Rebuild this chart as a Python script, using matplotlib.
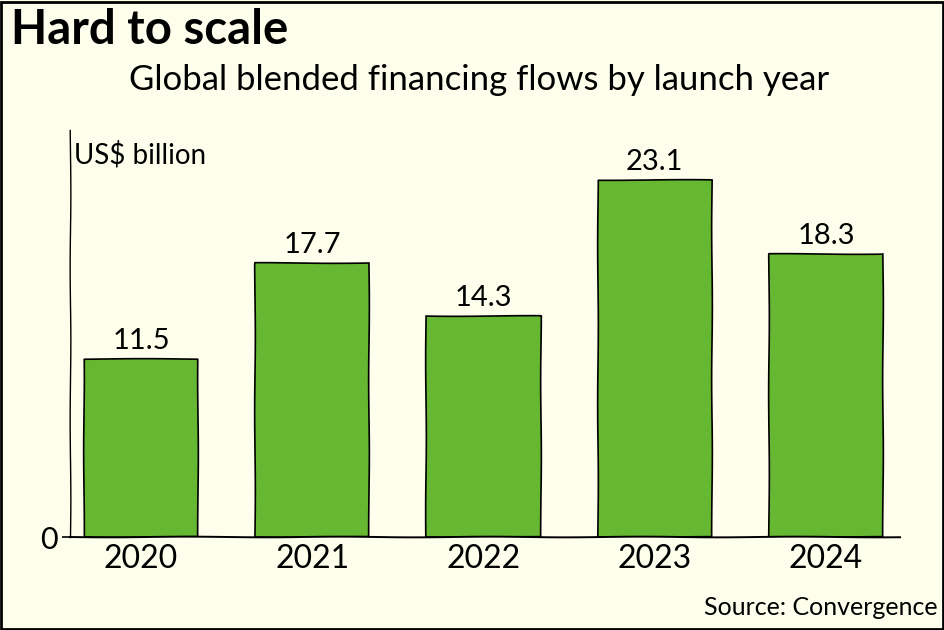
import matplotlib
matplotlib.use("Agg")
import matplotlib.pyplot as plt
from matplotlib.patches import Rectangle

years = ["2020", "2021", "2022", "2023", "2024"]
values = [11.5, 17.7, 14.3, 23.1, 18.3]
value_labels = ["11.5", "17.7", "14.3", "23.1", "18.3"]
title = "Hard to scale"
subtitle = "Global blended financing flows by launch year"
unit_label = "US$ billion"
source = "Source: Convergence"

BG = "#FEFEEC"
GREEN = "#66B832"

plt.rcParams["font.family"] = ["Lato", "DejaVu Sans"]
plt.rcParams["path.sketch"] = (0.35, 160, 1.5)

fig = plt.figure(figsize=(9.45, 6.3), dpi=100, facecolor=BG)
ax = fig.add_axes([0.074, 0.1476, 0.878, 0.646], facecolor=BG)

x = list(range(len(years)))
bars = ax.bar(x, values, width=0.667, color=GREEN, edgecolor="black", linewidth=1.2, zorder=2)
for xi, v, lab in zip(x, values, value_labels):
    ax.text(xi, v + 0.3, lab, ha="center", va="bottom", fontsize=21, color="black")

ax.set_xlim(-0.415, 4.43)
ax.set_ylim(0, 26.3)
ax.set_xticks(x)
ax.set_xticklabels(years, fontsize=23)
ax.tick_params(axis="x", length=0, pad=5)
ax.set_yticks([0])
ax.set_yticklabels(["0"], fontsize=22)
ax.tick_params(axis="y", length=6, width=1.2, pad=3)
for s in ["top", "right"]:
    ax.spines[s].set_visible(False)
ax.spines["left"].set_linewidth(1.0)
ax.spines["bottom"].set_linewidth(1.4)

fig.text(0.012, 0.952, title, fontsize=34, fontweight="bold", ha="left", va="center")
fig.text(0.507, 0.873, subtitle, fontsize=25, ha="center", va="center")
fig.text(0.078, 0.754, unit_label, fontsize=20, ha="left", va="center")
fig.text(0.992, 0.035, source, fontsize=18, ha="right", va="center")

border = Rectangle((0.001, 0.002), 0.997, 0.995, transform=fig.transFigure,
                   fill=False, edgecolor="black", linewidth=2, zorder=10)
border.set_sketch_params(None)
fig.patches.append(border)

fig.savefig("out.png", dpi=100, facecolor=BG)
